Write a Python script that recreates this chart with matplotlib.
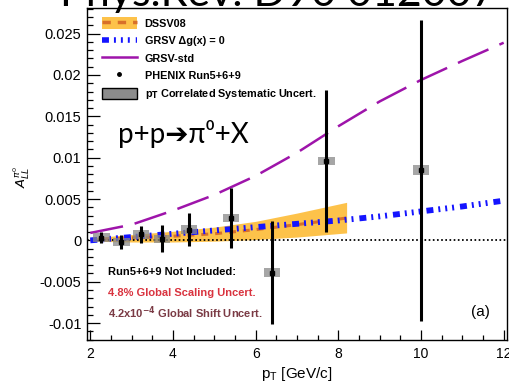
import matplotlib
matplotlib.use("Agg")
import matplotlib.pyplot as plt
from matplotlib.patches import Patch, Rectangle
from matplotlib.lines import Line2D

plt.rcParams['font.family'] = ['Liberation Sans', 'DejaVu Sans']
plt.rcParams['lines.scale_dashes'] = False

# PHENIX Run5+6+9 pi0 A_LL
pt = [2.27, 2.75, 3.23, 3.73, 4.39, 5.40, 6.40, 7.71, 10.0]
all_val = [0.00033, -0.0002, 0.00072, 0.0002, 0.0013, 0.0027, -0.0039, 0.0096, 0.0085]
all_err = [0.00066, 0.0008, 0.0010, 0.0016, 0.0020, 0.0036, 0.0062, 0.0086, 0.0182]
sys_err = [0.0005, 0.0005, 0.0005, 0.0005, 0.0005, 0.0005, 0.0005, 0.0005, 0.0006]

# DSSV08 with band
dssv_pt = [2, 3, 4, 5, 6, 7, 8.2]
dssv_val = [0.0001, 0.0003, 0.0005, 0.0008, 0.0013, 0.0019, 0.0027]
dssv_lo = [-0.0001, -0.0002, -0.0002, -0.0001, 0.0001, 0.0004, 0.0009]
dssv_hi = [0.0003, 0.0007, 0.0011, 0.0016, 0.0023, 0.0033, 0.0046]

# GRSV curves
grsv_pt = [2, 3, 4, 5, 6, 7, 8, 9, 10, 11, 12]
grsv_zero = [0.0000, 0.0004, 0.0008, 0.0012, 0.0016, 0.0020, 0.0024, 0.0029, 0.0035, 0.0041, 0.0048]
grsv_std = [0.0009, 0.0019, 0.0036, 0.0055, 0.0078, 0.0106, 0.0138, 0.0168, 0.0194, 0.0217, 0.0239]

orange_band = '#fdc24a'
orange_line = '#d8702a'
blue = '#1414ff'
purple = '#9e14aa'
blue_ls = (0, (5, 3.6, 1.4, 3.6, 1.4, 3.6, 1.4, 4.3))
purple_ls = (0, (24, 8.6))

fig = plt.figure(figsize=(5.09, 3.85), dpi=100)
ax = fig.add_axes([87 / 509, 45 / 385, 420 / 509, 332 / 385])

ax.fill_between(dssv_pt, dssv_lo, dssv_hi, color=orange_band, lw=0, zorder=1)
ax.plot(dssv_pt, dssv_val, color=orange_line, lw=2.2, ls=(0, (5, 5)), zorder=2)
ax.plot(grsv_pt, grsv_zero, color=blue, lw=4.2, ls=blue_ls, zorder=3)
ax.plot(grsv_pt, grsv_std, color=purple, lw=1.8, ls=purple_ls, zorder=3)
ax.axhline(0, color='black', lw=1.3, ls=(0, (1.2, 1.8)), zorder=2)

for x, y, s in zip(pt, all_val, sys_err):
    ax.add_patch(Rectangle((x - 0.2, y - s), 0.4, 2 * s, facecolor='#888888',
                           alpha=0.75, edgecolor='none', zorder=4))
ax.errorbar(pt, all_val, yerr=all_err, fmt='s', color='black', ms=3,
            elinewidth=2.2, capsize=0, zorder=5)

ax.set_xlim(1.92, 12.08)
ax.set_ylim(-0.01205, 0.0281)
ax.set_xticks([2, 4, 6, 8, 10, 12])
ax.set_xticks([x / 2 for x in range(4, 24)], minor=True)
ax.set_yticks([-0.01, -0.005, 0, 0.005, 0.01, 0.015, 0.02, 0.025])
ax.set_yticklabels(['-0.01', '-0.005', '0', '0.005', '0.01', '0.015', '0.02', '0.025'])
ax.set_yticks([v / 1000 for v in range(-12, 29)], minor=True)
ax.tick_params(axis='y', which='major', direction='in', length=9, width=0.9, labelsize=10.5, pad=4)
ax.tick_params(axis='y', which='minor', direction='in', length=4.5, width=0.9)
ax.tick_params(axis='x', which='major', direction='in', length=7, width=0.9, labelsize=10, pad=5)
ax.tick_params(axis='x', which='minor', direction='in', length=3.6, width=0.9)
for sp in ax.spines.values():
    sp.set_linewidth(1.0)

ax.set_xlabel(r'p$_{\mathregular{T}}$ [GeV/c]', fontsize=11, labelpad=3)
ax.set_ylabel(r'$A_{LL}^{\pi^{0}}$', fontsize=9.5)
ax.yaxis.set_label_coords(-0.13, 0.49)

handles = [
    (Patch(facecolor=orange_band, edgecolor='none'),
     Line2D([], [], color=orange_line, lw=2.5, ls=(0, (6, 5)))),
    Line2D([], [], color=blue, lw=4, ls=blue_ls),
    Line2D([], [], color=purple, lw=1.8),
    Line2D([], [], color='black', marker='o', ms=2.5, ls='none'),
    Patch(facecolor='#8c8c8c', edgecolor='black', lw=1),
]
labels = ['DSSV08', 'GRSV Δg(x) = 0', 'GRSV-std', 'PHENIX Run5+6+9',
          r'p$_{\mathbf{T}}$ Correlated Systematic Uncert.']
ax.legend(handles, labels, loc='upper left', bbox_to_anchor=(0.025, 0.985),
          frameon=False, prop={'weight': 'bold', 'size': 7.8},
          handlelength=3.2, handleheight=1.3, labelspacing=0.52,
          handletextpad=0.75, borderaxespad=0)

ax.text(0.074, 0.593, 'p+p➔π⁰+X', transform=ax.transAxes, fontsize=20,
        family=['Lato', 'DejaVu Sans'], va='baseline', ha='left')

ax.text(0.05, 0.205, 'Run5+6+9 Not Included:', transform=ax.transAxes,
        fontsize=8, weight='bold', va='center')
ax.text(0.05, 0.142, '4.8% Global Scaling Uncert.', transform=ax.transAxes,
        fontsize=8, weight='bold', color='#d9333f', va='center')
ax.text(0.05, 0.081, r'4.2x10$^{\mathbf{-4}}$ Global Shift Uncert.', transform=ax.transAxes,
        fontsize=8, weight='bold', color='#7a3a44', va='center')
ax.text(0.936, 0.084, '(a)', transform=ax.transAxes, fontsize=11,
        ha='center', va='center')

fig.text(278 / 509, 1 - 6 / 385, 'Phys.Rev. D90 012007', fontsize=31,
         family=['Lato', 'DejaVu Sans'], ha='center', va='baseline')

fig.savefig('out.png', dpi=100)
